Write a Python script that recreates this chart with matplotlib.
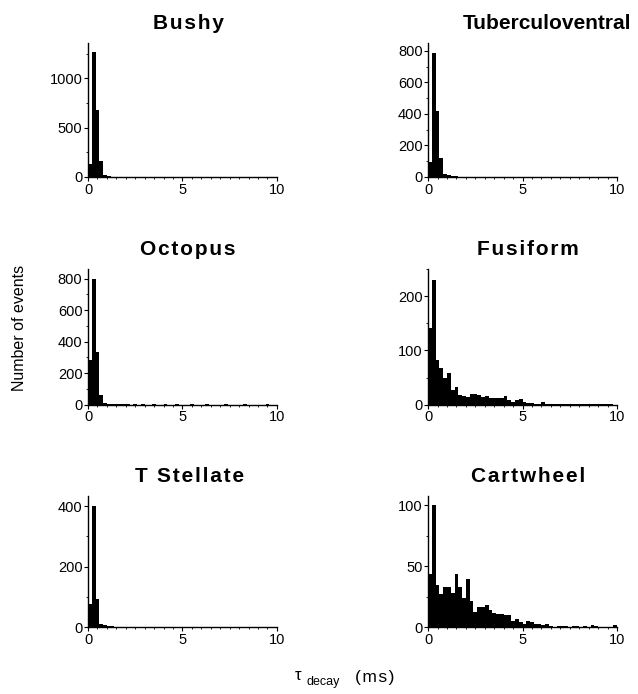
import numpy as np
import matplotlib
matplotlib.use("Agg")
import matplotlib.pyplot as plt
from matplotlib.ticker import MultipleLocator


plt.rcParams['font.family'] = ['Liberation Sans', 'DejaVu Sans']


# histogram of decay time constants, 0.2 ms bins from 0 to 10 ms
bin_width = 0.2
bin_edges = np.arange(0, 10, bin_width)

titles = ["Bushy", "Tuberculoventral", "Octopus", "Fusiform", "T Stellate", "Cartwheel"]

bushy = [130, 1265, 685, 165, 18, 6, 3, 2, 2, 1,
         1, 1, 1, 0, 1, 1, 0, 1, 0, 1,
         1, 0, 1, 0, 0, 1, 0, 1, 0, 0,
         1, 0, 0, 1, 0, 0, 1, 0, 0, 0,
         1, 0, 0, 1, 0, 0, 0, 1, 0, 0]

tuberculoventral = [94, 787, 418, 119, 21, 15, 5, 3, 2, 1,
                    1, 1, 0, 1, 0, 1, 0, 0, 1, 0,
                    0, 1, 0, 0, 0, 1, 0, 0, 0, 0,
                    1, 0, 0, 0, 0, 0, 1, 0, 0, 0,
                    0, 0, 0, 1, 0, 0, 0, 0, 0, 0]

octopus = [283, 800, 334, 60, 13, 6, 3, 2, 1, 1,
           1, 0, 1, 0, 1, 0, 0, 1, 0, 0,
           1, 0, 0, 1, 0, 0, 0, 1, 0, 0,
           0, 1, 0, 0, 0, 0, 1, 0, 0, 0,
           0, 1, 0, 0, 0, 0, 0, 1, 0, 0]

fusiform = [142, 231, 83, 68, 49, 59, 27, 32, 17, 15,
            14, 20, 19, 17, 14, 15, 12, 12, 12, 13,
            15, 8, 4, 8, 10, 4, 3, 3, 2, 2,
            5, 2, 2, 1, 1, 2, 1, 1, 2, 1,
            1, 1, 2, 1, 1, 1, 1, 1, 1, 0]

t_stellate = [78, 400, 95, 10, 7, 4, 3, 2, 1, 1,
              1, 0, 1, 0, 1, 0, 0, 1, 0, 0,
              0, 1, 0, 0, 0, 1, 0, 0, 0, 0,
              1, 0, 0, 0, 0, 0, 1, 0, 0, 0,
              0, 0, 1, 0, 0, 0, 0, 0, 0, 0]

cartwheel = [44, 100, 35, 27, 33, 33, 28, 44, 33, 24,
             40, 22, 13, 17, 17, 18, 14, 12, 11, 11,
             10, 10, 5, 7, 4, 3, 5, 4, 3, 3,
             2, 3, 1, 0, 1, 1, 1, 0, 1, 1,
             0, 1, 0, 2, 1, 0, 0, 0, 0, 2]

counts = [bushy, tuberculoventral, octopus, fusiform, t_stellate, cartwheel]
y_max = [1360, 850, 860, 250, 435, 108]
y_step = [500, 200, 200, 100, 200, 50]
title_x = [0.53, 0.63, 0.53, 0.53, 0.54, 0.53]


def spaced(s):
    # the printed figure uses slightly letter-spaced titles
    return "\u200a".join(s)


fig = plt.figure(figsize=(6.38, 6.94), dpi=100)

col_x = [0.138, 0.671]
row_y = [(0.745, 0.193), (0.417, 0.195), (0.096, 0.19)]
ax_w = 0.296

for i in range(6):
    row, col = divmod(i, 2)
    ax = fig.add_axes([col_x[col], row_y[row][0], ax_w, row_y[row][1]])
    ax.bar(bin_edges, counts[i], width=bin_width, align='edge', color='black', linewidth=0)
    ax.set_xlim(0, 10)
    ax.set_ylim(0, y_max[i])
    ax.spines['top'].set_visible(False)
    ax.spines['right'].set_visible(False)
    ax.spines['left'].set_linewidth(1.0)
    ax.spines['bottom'].set_linewidth(1.0)
    ax.set_xticks([0, 5, 10])
    ax.yaxis.set_major_locator(MultipleLocator(y_step[i]))
    ax.yaxis.set_minor_locator(MultipleLocator(y_step[i] / 2))
    ax.xaxis.set_minor_locator(MultipleLocator(0.5))
    ax.tick_params(which='major', direction='out', length=3, width=0.8, labelsize=10.5, pad=1)
    ax.tick_params(which='minor', direction='out', length=1.5, width=0.6)
    label = titles[i] if len(titles[i]) > 12 else spaced(titles[i])
    ax.set_title(label, fontsize=15, fontweight='bold', pad=10, x=title_x[i])

fig.text(0.031, 0.527, "Number of events", rotation=90, ha='center', va='center', fontsize=11.5)

# x label: tau with "decay" subscript, then units
fig.text(0.467, 0.027, "τ", ha='center', va='center', fontsize=12)
fig.text(0.481, 0.017, "decay", ha='left', va='center', fontsize=9)
fig.text(0.556, 0.024, spaced("(ms)"), ha='left', va='center', fontsize=12.5)

fig.savefig("out.png", dpi=100)
